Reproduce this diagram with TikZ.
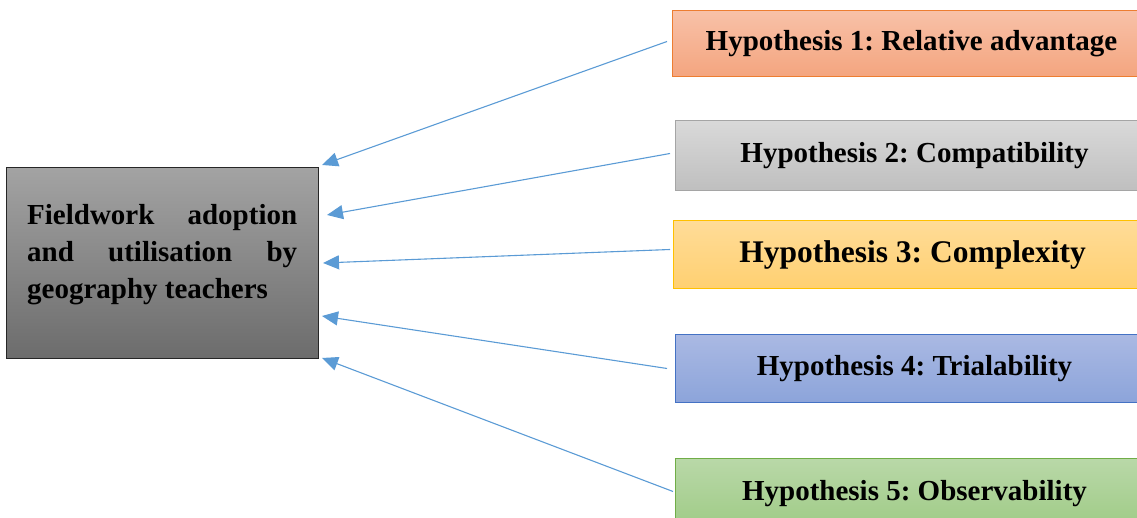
\documentclass[tikz,border=0pt]{standalone}
\usepackage{fontspec}
\setmainfont{Liberation Serif}
\usetikzlibrary{arrows.meta}
\definecolor{arr}{HTML}{5B9BD5}
\definecolor{oT}{HTML}{F8C1A8}\definecolor{oB}{HTML}{F4A57F}\definecolor{oD}{HTML}{ED7D31}
\definecolor{gT}{HTML}{D9D9D9}\definecolor{gB}{HTML}{BFBFBF}\definecolor{gD}{HTML}{A5A5A5}
\definecolor{yT}{HTML}{FFDC98}\definecolor{yB}{HTML}{FFD071}\definecolor{yD}{HTML}{FFC000}
\definecolor{bT}{HTML}{AAB9E3}\definecolor{bB}{HTML}{8CA4DA}\definecolor{bD}{HTML}{4472C4}
\definecolor{grT}{HTML}{B9D8A8}\definecolor{grB}{HTML}{9FCB86}\definecolor{grD}{HTML}{70AD47}
\definecolor{mT}{HTML}{A3A3A3}\definecolor{mB}{HTML}{6C6C6C}
\frenchspacing
\begin{document}
\begin{tikzpicture}[x=1pt,y=1pt,
  hyp/.style={rectangle, anchor=south west, minimum width=478pt, minimum height=#1, line width=1pt, inner sep=0pt, font=\fontsize{29}{34}\selectfont\bfseries},
  conn/.style={draw=arr, line width=1.1pt, -{Triangle[length=16pt,width=14pt]}}]
\useasboundingbox (0,0) rectangle (1137,518);
\clip (0,0) rectangle (1137,518);
\node[rectangle, anchor=south west, minimum width=312pt, minimum height=191pt, draw=black!85, line width=1pt, top color=mT, bottom color=mB, inner sep=0pt] (main) at (6,159) {};
\node[anchor=north west, inner sep=0pt, align=left, font=\fontsize{29}{37}\selectfont\bfseries] (mt) at (27,314) {\hbox to 270pt{Fieldwork\hfill adoption}\\\hbox to 270pt{and\hfill utilisation\hfill by}\\geography teachers};
\node[hyp=66pt, draw=oD, top color=oT, bottom color=oB] (h1) at (672,441) {Hypothesis 1: Relative advantage};
\node[hyp=70pt, draw=gD, top color=gT, bottom color=gB] (h2) at (675,327) {Hypothesis 2: Compatibility};
\node[hyp=68pt, draw=yD, top color=yT, bottom color=yB, font=\fontsize{31.5}{36}\selectfont\bfseries] (h3) at (673,229) {Hypothesis 3: Complexity};
\node[hyp=68pt, draw=bD, top color=bT, bottom color=bB] (h4) at (675,115) {Hypothesis 4: Trialability};
\node[hyp=70pt, draw=grD, top color=grT, bottom color=grB] (h5) at (675,-11) {Hypothesis 5: Observability};
\coordinate (t1) at (322,353);
\coordinate (t2) at (327,303);
\coordinate (t3) at (323,255);
\coordinate (t4) at (322,202);
\coordinate (t5) at (322,160);
\draw[conn] ([xshift=-5pt,yshift=2pt]h1.west) -- (t1);
\draw[conn] ([xshift=-5pt,yshift=2pt]h2.west) -- (t2);
\draw[conn] ([xshift=-3pt,yshift=5pt]h3.west) -- (t3);
\draw[conn] ([xshift=-8pt]h4.west) -- (t4);
\draw[conn] ([xshift=-2pt,yshift=2pt]h5.west) -- (t5);
\end{tikzpicture}
\end{document}
